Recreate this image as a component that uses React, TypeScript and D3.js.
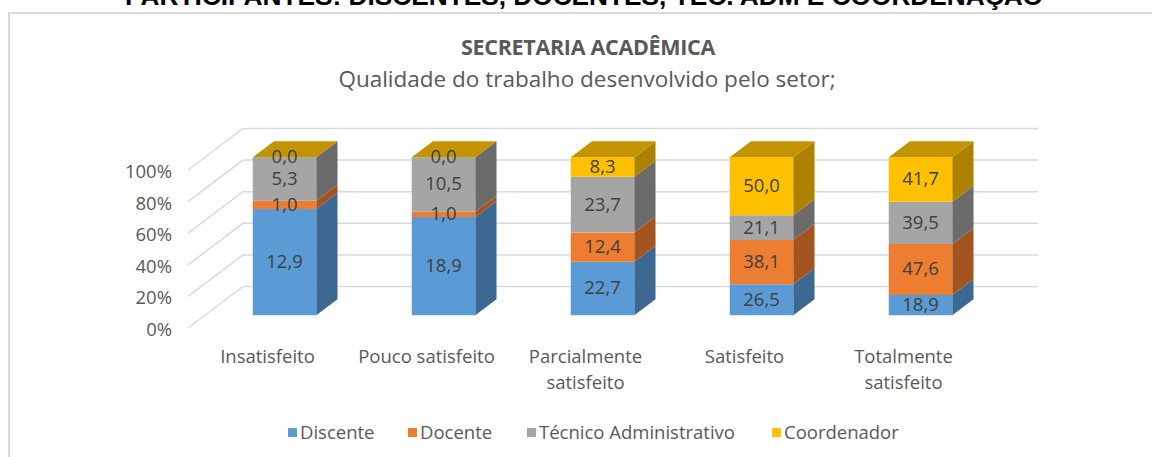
import React from 'react';
import * as d3 from 'd3';

const categories = ['Insatisfeito', 'Pouco satisfeito', 'Parcialmente satisfeito', 'Satisfeito', 'Totalmente satisfeito'];
const seriesNames = ['Discente', 'Docente', 'Técnico Administrativo', 'Coordenador'];
const discente = [12.9, 18.9, 22.7, 26.5, 18.9];
const docente = [1.0, 1.0, 12.4, 38.1, 47.6];
const tecnico = [5.3, 10.5, 23.7, 21.1, 39.5];
const coordenador = [0.0, 0.0, 8.3, 50.0, 41.7];
const yTicks = [0, 0.2, 0.4, 0.6, 0.8, 1];

const frontColors = ['#5B9BD5', '#ED7D31', '#A5A5A5', '#FFC000'];
const sideColors = ['#3D6891', '#A3541F', '#6B6B6B', '#AD8200'];
const topColor = '#C29500';

const W = 1152, H = 457;
const X0 = 188, X1 = 983;        // floor front edge
const DX = 55, DY = 41.5;        // depth offset of the back wall
const D0 = 0.31, D1 = 0.695;     // bar depth range

const App: React.FC = () => {
  const rows = categories.map((c, i) => ({
    cat: c, Discente: discente[i], Docente: docente[i],
    'Técnico Administrativo': tecnico[i], Coordenador: coordenador[i],
  }));
  const stacked = d3.stack<any>().keys(seriesNames).offset(d3.stackOffsetExpand)(rows);

  const x = d3.scaleBand().domain(categories).range([X0, X1]);
  const y = d3.scaleLinear().domain([0, 1]).range([328, 170]);
  const barW = x.bandwidth() * 0.4;
  const P = (px: number, v: number, d: number): [number, number] => [px + d * DX, y(v) - d * DY];
  const poly = (pts: [number, number][]) => pts.map(p => p.join(',')).join(' ');

  const fmt = (v: number) => v.toFixed(1).replace('.', ',');
  const textCol = '#595959';
  const font = '"Open Sans", Lato, sans-serif';

  return (
    <svg width={W} height={H} style={{ position: 'absolute', left: 0, top: 0, background: '#fff' }}>
      <text x={584} y={5} textAnchor="middle" fontFamily='"Liberation Sans", Arial, sans-serif'
        fontWeight="bold" fontSize={25} textLength={918} lengthAdjust="spacingAndGlyphs" fill="#000">
        PARTICIPANTES: DISCENTES, DOCENTES, TÉC. ADM E COORDENAÇÃO
      </text>
      <rect x={9} y={13} width={1160} height={460} fill="#fff" stroke="#D9D9D9" strokeWidth={2} />

      <text x={588} y={55} textAnchor="middle" fontFamily={font} fontWeight="bold" fontSize={21.5}
        letterSpacing={-0.3} fill={textCol}>
        SECRETARIA ACADÊMICA
      </text>
      <text x={587} y={87} textAnchor="middle" fontFamily={font} fontSize={22.5} fill={textCol}>
        Qualidade do trabalho desenvolvido pelo setor;
      </text>

      {/* walls */}
      {yTicks.map(t => {
        const a = P(X0, t, 0), b = P(X0, t, 1), c = P(X1, t, 1);
        return (
          <g key={t}>
            <polyline points={poly([a, b, c])} fill="none" stroke="#D9D9D9" strokeWidth={1.5} />
            <text x={172} y={y(t) + 3} textAnchor="end" dominantBaseline="middle" fontFamily={font}
              fontSize={18.5} fill={textCol}>{Math.round(t * 100)}%</text>
          </g>
        );
      })}

      {/* bars */}
      {categories.map((c, i) => {
        const cx = (x(c) as number) + x.bandwidth() / 2;
        const xl = cx - barW / 2, xr = cx + barW / 2;
        return (
          <g key={c}>
            {stacked.map((s, k) => {
              const [v0, v1] = s[i] as unknown as [number, number];
              const fl = P(xl, v0, D0), fr = P(xr, v0, D0), tl = P(xl, v1, D0), tr = P(xr, v1, D0);
              const sb = P(xr, v0, D1), st = P(xr, v1, D1);
              return (
                <g key={k}>
                  <polygon points={poly([fl, fr, tr, tl])} fill={frontColors[k]} />
                  <polygon points={poly([fr, sb, st, tr])} fill={sideColors[k]} />
                </g>
              );
            })}
            <polygon points={poly([P(xl, 1, D0), P(xr, 1, D0), P(xr, 1, D1), P(xl, 1, D1)])} fill={topColor} />
            {stacked.map((s, k) => {
              const [v0, v1] = s[i] as unknown as [number, number];
              const [lx, ly] = P(cx, (v0 + v1) / 2, D0);
              const vals = [discente, docente, tecnico, coordenador][k];
              return (
                <text key={'l' + k} x={lx} y={ly + 1} textAnchor="middle" dominantBaseline="middle"
                  fontFamily={font} fontSize={18.5} fill="#404040">{fmt(vals[i])}</text>
              );
            })}
          </g>
        );
      })}

      {/* category labels */}
      {categories.map(c => {
        const cx = (x(c) as number) + x.bandwidth() / 2;
        const lines = c === 'Pouco satisfeito' || c.split(' ').length === 1 ? [c] : c.split(' ');
        return (
          <text key={c} textAnchor="middle" fontFamily={font} fontSize={18.5} fill={textCol}>
            {lines.map((ln, j) => <tspan key={j} x={cx} y={363 + j * 26}>{ln}</tspan>)}
          </text>
        );
      })}

      {/* legend */}
      {seriesNames.map((n, k) => {
        const lx = [288, 408, 527, 772][k];
        return (
          <g key={n}>
            <rect x={lx} y={428} width={9} height={9} fill={frontColors[k]} />
            <text x={lx + 12} y={439} fontFamily={font} fontSize={18.5} fill={textCol}>{n}</text>
          </g>
        );
      })}
    </svg>
  );
};

export default App;
